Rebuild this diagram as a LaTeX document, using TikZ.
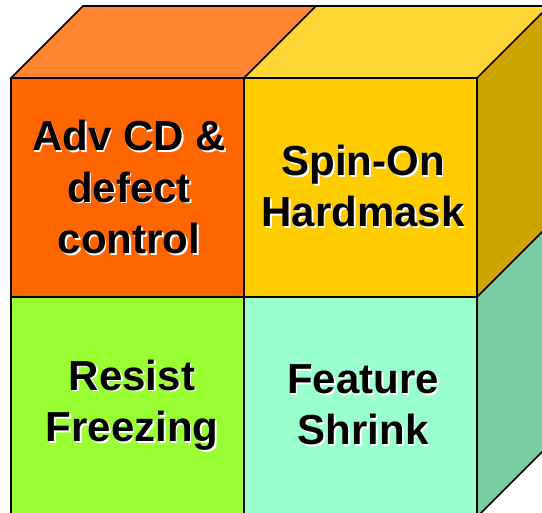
\documentclass[tikz,border=0pt]{standalone}
\usepackage{fontspec}
\setmainfont{Liberation Sans}
\definecolor{topA}{HTML}{FF8533}
\definecolor{frontA}{HTML}{FF6600}
\definecolor{topB}{HTML}{FFD633}
\definecolor{frontB}{HTML}{FFCC00}
\definecolor{sideB}{HTML}{CCA300}
\definecolor{frontC}{HTML}{99FF33}
\definecolor{frontD}{HTML}{99FFCC}
\definecolor{sideD}{HTML}{7ACCA3}
\tikzset{
  face/.style={draw=black, line width=1.6pt, line join=miter},
  lbl/.style={font=\fontsize{42}{51.5}\selectfont\bfseries, align=center, inner sep=0pt},
}
\newcommand{\shadowtext}[3]{%
  \node[lbl, text=white] at ([xshift=1.8pt,yshift=-1.8pt]#2) {#3};
  \node[lbl, text=black] (#1) at (#2) {#3};
}
\begin{document}
\begin{tikzpicture}[x=1pt,y=1pt]
\useasboundingbox (0,0) rectangle (542,513);
\begin{scope}
\clip (0,0) rectangle (542,513);
% coordinates (y = 513 - pixel y)
\coordinate (fTL) at (11,435);
\coordinate (fTM) at (244,435);
\coordinate (fTR) at (477,435);
\coordinate (fML) at (11,216);
\coordinate (fMM) at (244,216);
\coordinate (fMR) at (477,216);
\coordinate (fBL) at (11,-4);
\coordinate (fBM) at (244,-4);
\coordinate (fBR) at (477,-4);
\coordinate (bTL) at (83,507);
\coordinate (bTM) at (316,507);
\coordinate (bTR) at (549,507);
\coordinate (bMR) at (549,288);
\coordinate (bBR) at (549,68);
% top faces
\fill[topA] (fTL) -- (fTM) -- (bTM) -- (bTL) -- cycle;
\fill[topB] (fTM) -- (fTR) -- (bTR) -- (bTM) -- cycle;
% side faces
\fill[sideB] (fTR) -- (fMR) -- (bMR) -- (bTR) -- cycle;
\fill[sideD] (fMR) -- (fBR) -- (bBR) -- (bMR) -- cycle;
% front faces
\fill[frontA] (fTL) rectangle (fMM);
\fill[frontB] (fTM) rectangle (fMR);
\fill[frontC] (fML) rectangle (fBM);
\fill[frontD] (fMM) rectangle (fBR);
% edges
\draw[face] (fTL) -- (bTL) -- (bTR);
\draw[face] (fTM) -- (bTM);
\draw[face] (fTR) -- (bTR) -- (bBR);
\draw[face] (fMR) -- (bMR);
\draw[face] (fBR) -- (bBR);
\draw[face] (fTL) -- (fTR) -- (fBR) -- (fBL) -- cycle;
\draw[face] (fTM) -- (fBM);
\draw[face] (fML) -- (fMR);
\end{scope}
% labels
\shadowtext{tA}{129,326}{Adv CD \&\\defect\\control}
\shadowtext{tB}{363,327}{Spin-On\\Hardmask}
\shadowtext{tC}{132,108}{Resist\\Freezing}
\shadowtext{tD}{363,108}{Feature\\Shrink}
\end{tikzpicture}
\end{document}
